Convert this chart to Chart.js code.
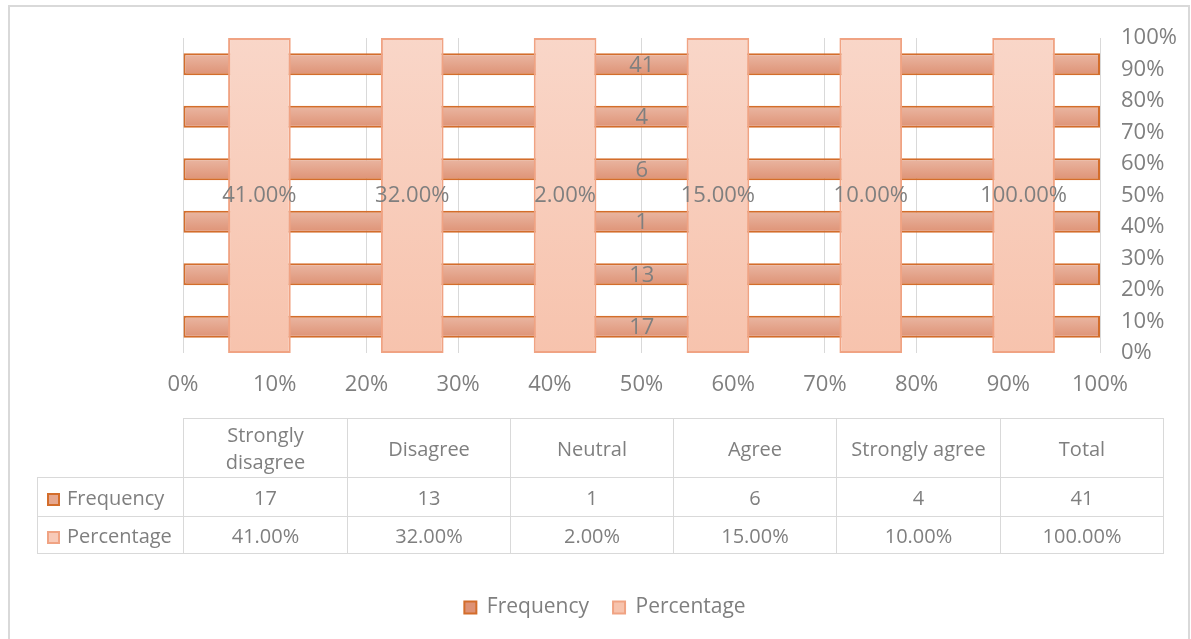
<!DOCTYPE html>
<html>
<head>
<meta charset="utf-8">
<script src="https://cdn.jsdelivr.net/npm/chart.js"></script>
<style>
  body { margin: 0; background: #fff; }
  #wrap { position: relative; width: 1191px; height: 639px; overflow: hidden; font-family: "Open Sans", sans-serif; }
  #frame { position: absolute; left: 8px; top: 5px; width: 1182px; height: 700px; border: 2px solid #d9d9d9; box-sizing: border-box; }
  #graph { position: absolute; left: 0; top: 0; }
  #tbl { position: absolute; left: 37px; top: 418px; border-collapse: collapse; table-layout: fixed; color: #7f7f7f; font-size: 20px; }
  #tbl td { border: 1px solid #d9d9d9; text-align: center; padding: 0; white-space: nowrap; }
  #tbl td.corner { border-top: none; border-left: none; }
  #tbl td.rowhead { text-align: left; padding-left: 9px; }
  #tbl .key { display: inline-block; width: 13px; height: 13px; box-sizing: border-box; border: 2px solid; margin-right: 7px; vertical-align: -1px; }
</style>
</head>
<body>
<div id="wrap">
  <div id="frame"></div>
  <canvas id="graph" width="1191" height="639"></canvas>
  <table id="tbl"></table>
</div>
<script>
const categories = ['Strongly disagree', 'Disagree', 'Neutral', 'Agree', 'Strongly agree', 'Total'];
const frequency = [17, 13, 1, 6, 4, 41];
const percentage = [41, 32, 2, 15, 10, 100];
const axisTicks = [0, 10, 20, 30, 40, 50, 60, 70, 80, 90, 100];

const freqFill = '#e6a78e';
const freqLine = '#d36d2b';
const pctFill = '#f8cab8';
const pctLine = '#f0a383';
const grey = '#7f7f7f';
const gridGrey = '#d9d9d9';
const font = { family: '"Open Sans", sans-serif', size: 22 };

// excel's 100% stacked bars: each value as a share of its stack total
const stackShare = (...stack) => stack[0].map((v, i) => v / stack.reduce((s, a) => s + a[i], 0) * 100);

const freqText = frequency.map(String);
const pctText = percentage.map(v => v.toFixed(2) + '%');

// table under the plot
const tbl = document.getElementById('tbl');
const colW = [146, 164, 163, 163, 163, 164, 163];
let html = '<colgroup>' + colW.map(w => `<col style="width:${w}px">`).join('') + '</colgroup>';
html += '<tr style="height:59px"><td class="corner"></td>' +
  categories.map(c => `<td style="line-height:27px">${c.replace('Strongly disagree', 'Strongly<br>disagree')}</td>`).join('') + '</tr>';
html += `<tr style="height:39px"><td class="rowhead"><span class="key" style="background:${freqFill};border-color:${freqLine}"></span>Frequency</td>` +
  freqText.map(t => `<td>${t}</td>`).join('') + '</tr>';
html += `<tr style="height:37px"><td class="rowhead"><span class="key" style="background:${pctFill};border-color:${pctLine}"></span>Percentage</td>` +
  pctText.map(t => `<td>${t}</td>`).join('') + '</tr>';
tbl.innerHTML = html;

const valueLabels = {
  id: 'valueLabels',
  afterDatasetsDraw(chart) {
    const ctx = chart.ctx;
    ctx.save();
    ctx.font = '22px "Open Sans"';
    ctx.fillStyle = grey;
    ctx.textAlign = 'center';
    ctx.textBaseline = 'middle';
    chart.data.datasets.forEach((ds, di) => {
      const meta = chart.getDatasetMeta(di);
      meta.data.forEach((bar, i) => {
        const flat = meta.indexAxis === 'y';
        const x = flat ? (bar.x + bar.base) / 2 : bar.x;
        const y = flat ? bar.y + 1 : (bar.y + bar.base) / 2;
        ctx.fillText(ds.labels[i], x, y);
      });
    });
    ctx.restore();
  }
};

function freqGradient(c) {
  const sc = c.chart.scales.yCat;
  if (!sc || c.dataIndex === undefined) return freqFill;
  const y = sc.getPixelForValue(c.dataIndex);
  if (!isFinite(y)) return freqFill;
  const g = c.chart.ctx.createLinearGradient(0, y - 11, 0, y + 11);
  g.addColorStop(0, '#eab7a3');
  g.addColorStop(1, '#de9275');
  return g;
}

function pctGradient(c) {
  const a = c.chart.chartArea;
  if (!a || !isFinite(a.top) || !isFinite(a.bottom)) return pctFill;
  const g = c.chart.ctx.createLinearGradient(0, a.top, 0, a.bottom);
  g.addColorStop(0, '#f9d6c8');
  g.addColorStop(1, '#f7c3ad');
  return g;
}

const ctx = document.getElementById('graph');
new Chart(ctx, {
  type: 'bar',
  data: {
    labels: categories,
    datasets: [
      {
        label: 'Frequency',
        indexAxis: 'y',
        xAxisID: 'xVal',
        yAxisID: 'yCat',
        data: stackShare(frequency),
        labels: freqText,
        backgroundColor: freqGradient,
        borderColor: freqLine,
        borderWidth: 2,
        borderSkipped: false,
        grouped: false,
        barPercentage: 0.42,
        categoryPercentage: 1,
        order: 2
      },
      {
        label: 'Percentage',
        indexAxis: 'x',
        xAxisID: 'xCat',
        yAxisID: 'yVal',
        data: stackShare(percentage),
        labels: pctText,
        backgroundColor: pctGradient,
        borderColor: pctLine,
        borderWidth: 2,
        borderSkipped: false,
        grouped: false,
        barPercentage: 0.41,
        categoryPercentage: 1,
        order: 1
      }
    ]
  },
  options: {
    responsive: false,
    animation: false,
    layout: { padding: { left: 19, right: 0, top: 38, bottom: 11 } },
    scales: {
      xVal: {
        type: 'linear', axis: 'x', position: 'bottom', min: 0, max: 100, offset: false,
        afterBuildTicks: s => { s.ticks = axisTicks.map(v => ({ value: v })); },
        ticks: { callback: v => v + '%', color: grey, font: font, padding: 19, maxRotation: 0 },
        grid: { color: gridGrey, drawTicks: false, offset: false },
        border: { display: false },
        afterFit: s => {
          s.height = s.chart.height - 353 - 11 - (s.chart.legend ? s.chart.legend.height : 0);
          s.paddingLeft = 0; s.paddingRight = 0;
        }
      },
      yCat: {
        type: 'category', axis: 'y', position: 'left', reverse: true, offset: true,
        ticks: { display: false },
        grid: { display: false },
        border: { display: false },
        afterFit: s => { s.width = 164; s.paddingTop = 0; s.paddingBottom = 0; }
      },
      xCat: {
        type: 'category', axis: 'x', position: 'bottom', display: false, offset: true
      },
      yVal: {
        type: 'linear', axis: 'y', position: 'right', min: 0, max: 100, offset: false,
        afterBuildTicks: s => { s.ticks = axisTicks.map(v => ({ value: v })); },
        ticks: { callback: v => v + '%', color: grey, font: font, padding: 13 },
        grid: { display: false },
        border: { display: false },
        afterFit: s => { s.width = 91; s.paddingTop = 0; s.paddingBottom = 0; }
      }
    },
    plugins: {
      legend: {
        position: 'bottom',
        labels: {
          color: grey, font: { family: font.family, size: 21 }, boxWidth: 12, boxHeight: 12, padding: 24,
          sort: (a, b) => a.datasetIndex - b.datasetIndex
        }
      },
      tooltip: { enabled: false }
    }
  },
  plugins: [valueLabels]
});
</script>
</body>
</html>
